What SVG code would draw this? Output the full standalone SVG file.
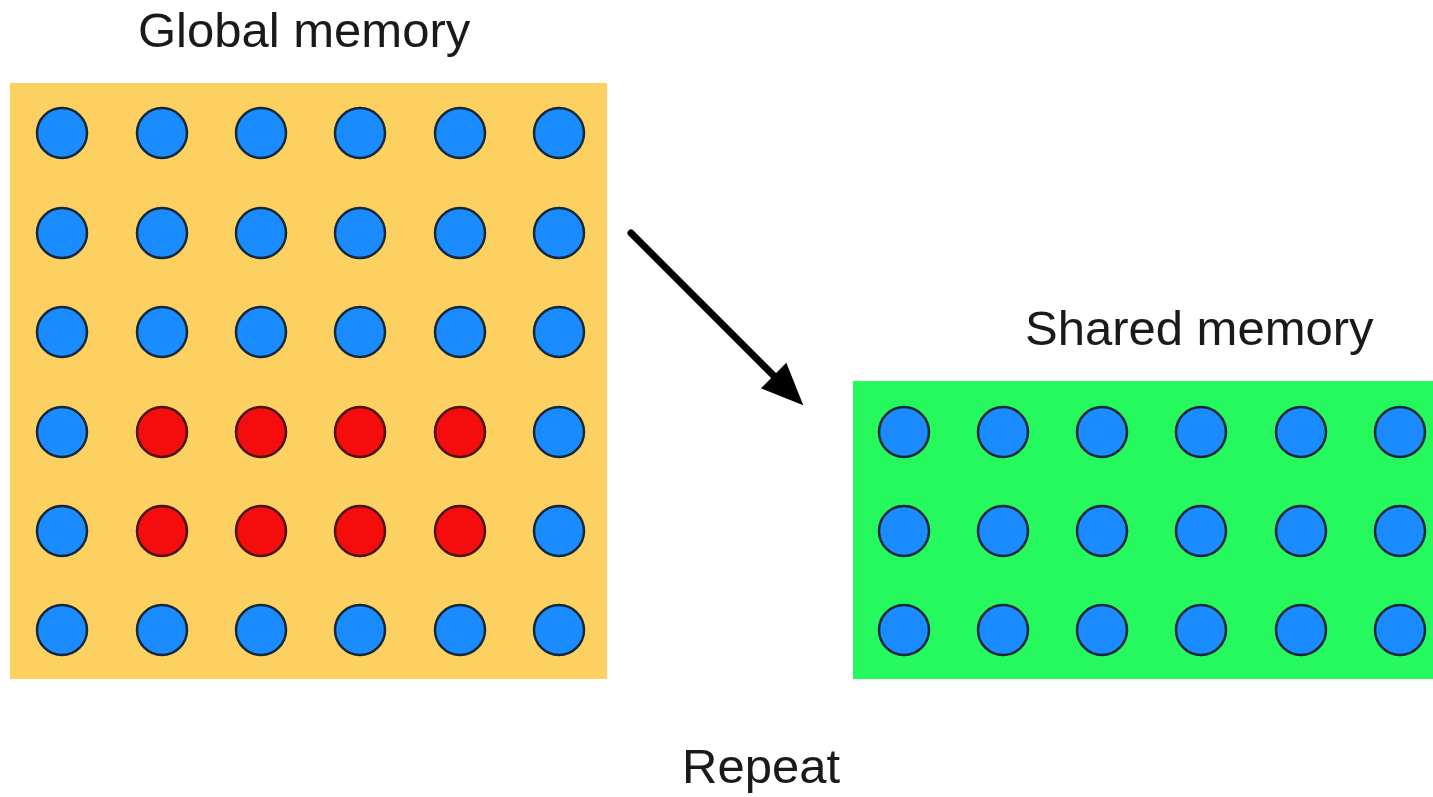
<svg xmlns="http://www.w3.org/2000/svg" width="1433" height="797" viewBox="0 0 1433 797">
  <style>
    .label { font-family: "Liberation Sans", Arial, sans-serif; font-size: 49px; fill: #1a1a1a; }
    .dot { fill: #1a8cff; stroke: #14283c; stroke-width: 2.5; }
    .hot { fill: #f50d0d; stroke: #4a1410; stroke-width: 2.5; }
    .conn { stroke: #000; stroke-width: 7; stroke-linecap: round; fill: none; }
  </style>
  <defs>
    <marker id="head" markerUnits="userSpaceOnUse" markerWidth="44" markerHeight="40" refX="2" refY="18" orient="auto" overflow="visible">
      <path d="M0,0 L42,18 L0,36 Z" fill="#000"/>
    </marker>
  </defs>
  <rect width="1433" height="797" fill="#ffffff"/>

  <!-- global memory block: 6x6 grid, inner 2x4 tile highlighted -->
  <g id="global-memory">
    <text class="label" x="138" y="47">Global memory</text>
    <rect x="10" y="83" width="597" height="596" fill="#fdd062"/>
    <g>
      <circle class="dot" cx="62" cy="133" r="25"/><circle class="dot" cx="162" cy="133" r="25"/><circle class="dot" cx="261" cy="133" r="25"/><circle class="dot" cx="360" cy="133" r="25"/><circle class="dot" cx="460" cy="133" r="25"/><circle class="dot" cx="559" cy="133" r="25"/>
      <circle class="dot" cx="62" cy="233" r="25"/><circle class="dot" cx="162" cy="233" r="25"/><circle class="dot" cx="261" cy="233" r="25"/><circle class="dot" cx="360" cy="233" r="25"/><circle class="dot" cx="460" cy="233" r="25"/><circle class="dot" cx="559" cy="233" r="25"/>
      <circle class="dot" cx="62" cy="332" r="25"/><circle class="dot" cx="162" cy="332" r="25"/><circle class="dot" cx="261" cy="332" r="25"/><circle class="dot" cx="360" cy="332" r="25"/><circle class="dot" cx="460" cy="332" r="25"/><circle class="dot" cx="559" cy="332" r="25"/>
      <circle class="dot" cx="62" cy="432" r="25"/><circle class="hot" cx="162" cy="432" r="25"/><circle class="hot" cx="261" cy="432" r="25"/><circle class="hot" cx="360" cy="432" r="25"/><circle class="hot" cx="460" cy="432" r="25"/><circle class="dot" cx="559" cy="432" r="25"/>
      <circle class="dot" cx="62" cy="531" r="25"/><circle class="hot" cx="162" cy="531" r="25"/><circle class="hot" cx="261" cy="531" r="25"/><circle class="hot" cx="360" cy="531" r="25"/><circle class="hot" cx="460" cy="531" r="25"/><circle class="dot" cx="559" cy="531" r="25"/>
      <circle class="dot" cx="62" cy="630" r="25"/><circle class="dot" cx="162" cy="630" r="25"/><circle class="dot" cx="261" cy="630" r="25"/><circle class="dot" cx="360" cy="630" r="25"/><circle class="dot" cx="460" cy="630" r="25"/><circle class="dot" cx="559" cy="630" r="25"/>
    </g>
  </g>

  <!-- shared memory block: 3x6 grid -->
  <g id="shared-memory">
    <text class="label" x="1025" y="345">Shared memory</text>
    <rect x="853" y="381" width="580" height="298" fill="#26f95d"/>
    <g>
      <circle class="dot" cx="904" cy="432" r="25"/><circle class="dot" cx="1003" cy="432" r="25"/><circle class="dot" cx="1102" cy="432" r="25"/><circle class="dot" cx="1201" cy="432" r="25"/><circle class="dot" cx="1301" cy="432" r="25"/><circle class="dot" cx="1400" cy="432" r="25"/>
      <circle class="dot" cx="904" cy="531" r="25"/><circle class="dot" cx="1003" cy="531" r="25"/><circle class="dot" cx="1102" cy="531" r="25"/><circle class="dot" cx="1201" cy="531" r="25"/><circle class="dot" cx="1301" cy="531" r="25"/><circle class="dot" cx="1400" cy="531" r="25"/>
      <circle class="dot" cx="904" cy="630" r="25"/><circle class="dot" cx="1003" cy="630" r="25"/><circle class="dot" cx="1102" cy="630" r="25"/><circle class="dot" cx="1201" cy="630" r="25"/><circle class="dot" cx="1301" cy="630" r="25"/><circle class="dot" cx="1400" cy="630" r="25"/>
    </g>
  </g>

  <g id="repeat">
    <text class="label" x="682" y="783">Repeat</text>
  </g>

  <!-- connectors -->
  <g id="connectors">
    <line class="conn" x1="631" y1="233" x2="775" y2="377" marker-end="url(#head)"/>
  </g>
</svg>
